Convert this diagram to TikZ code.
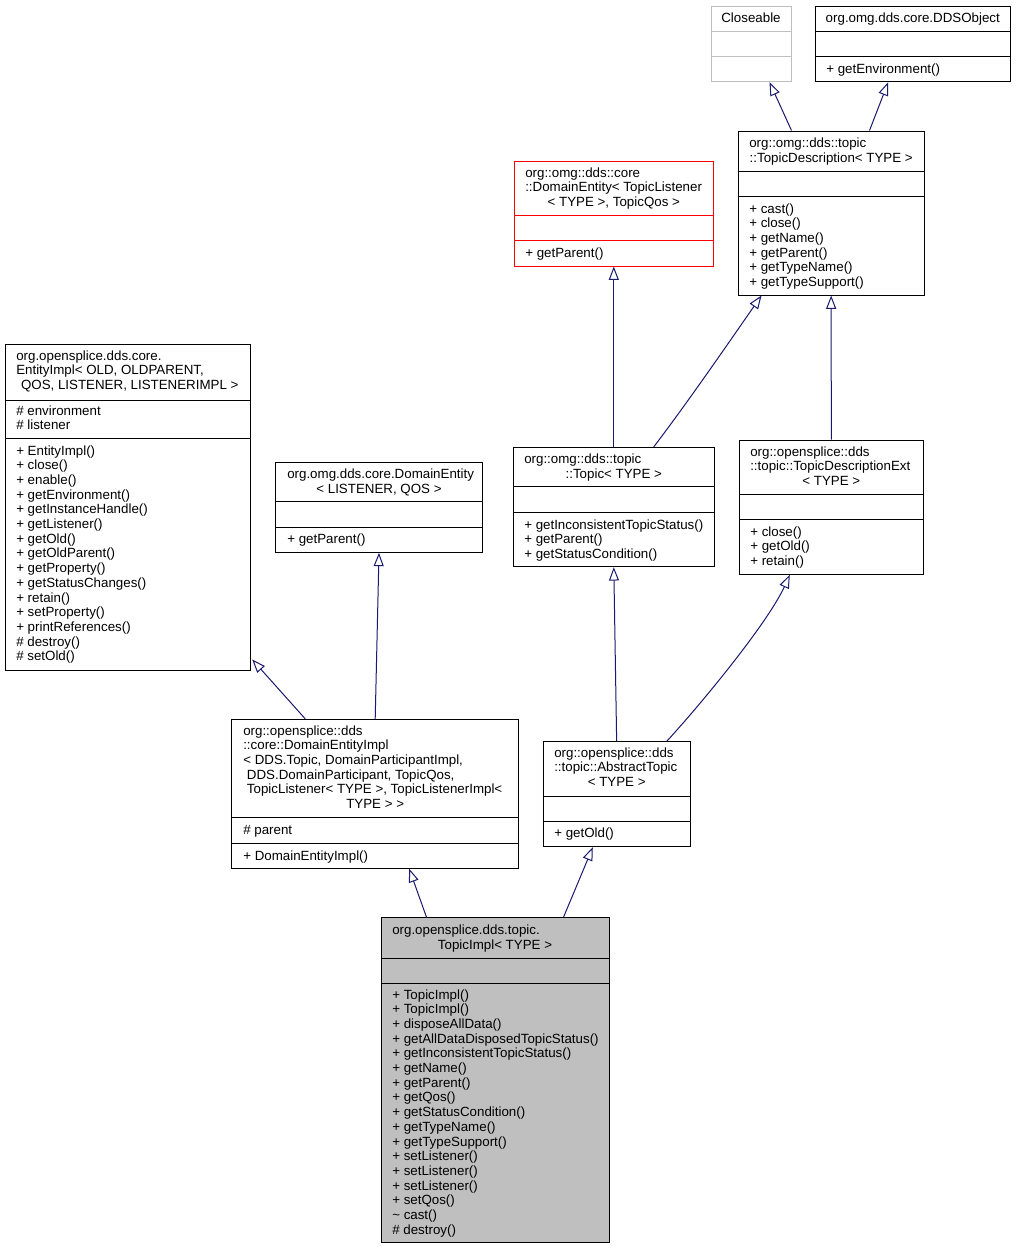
\documentclass[tikz,border=0pt]{standalone}
\usepackage{fontspec}
\setmainfont{Liberation Sans}
\usetikzlibrary{arrows.meta, fit, calc}

\definecolor{edgeblue}{HTML}{191970}
\definecolor{classgray}{HTML}{BFBFBF}

\begin{document}
\begin{tikzpicture}[
  font=\fontsize{10}{12}\selectfont,
  % One unit is one pixel of the original; rows grow downward:
  x=0.75pt,
  y=-0.75pt,
  classbox/.style={draw, line width=0.75pt, inner sep=0pt},
  divider/.style={line width=0.75pt},
  textl/.style={inner sep=0pt, anchor=base west},
  titlec/.style={inner sep=0pt, anchor=base},
  isa/.style={draw=edgeblue, line width=0.75pt,
    -{Triangle[open, length=10pt, width=7.5pt]}}
]

\fill[white] (0,0) rectangle (1015,1249);
\useasboundingbox (0,0) rectangle (1015,1249);

% 1) Top row: Closeable (external, gray) and DDSObject
\node[classbox, draw=classgray, fit={(711,6) (791,81.7)}] (closeable) {};
\draw[divider, classgray] (711,31.7) -- (791,31.7) (711,56.7) -- (791,56.7);
\node[titlec] at (751,22) {Closeable};

\node[classbox, fit={(815.7,6) (1010,81.7)}] (ddsobj) {};
\draw[divider] (815.7,31.7) -- (1010,31.7) (815.7,56.7) -- (1010,56.7);
\node[titlec] at (912.8,22) {org.omg.dds.core.DDSObject};
\node[textl] at (826,73) {+ getEnvironment()};

% 2) TopicDescription
\node[classbox, fit={(738,131) (924.3,295)}] (tdesc) {};
\draw[divider] (738,171.7) -- (924.3,171.7) (738,196.7) -- (924.3,196.7);
\node[textl] at (749,147) {org::omg::dds::topic};
\node[titlec] at (831.2,162) {::TopicDescription< TYPE >};
\foreach \m [count=\i from 0] in {+ cast(), + close(), + getName(),
    + getParent(), + getTypeName(), + getTypeSupport()}
  \node[textl] at (749,{213+14.7*\i}) {\m};

% 3) DomainEntity (incomplete, red)
\node[classbox, draw=red, fit={(514.3,161) (713.3,266)}] (dentity) {};
\draw[divider, red] (514.3,215.7) -- (713.3,215.7) (514.3,240.7) -- (713.3,240.7);
\node[textl] at (525,177) {org::omg::dds::core};
\node[textl] at (525,191.7) {::DomainEntity< TopicListener};
\node[titlec] at (613.8,206.4) {< TYPE >, TopicQos >};
\node[textl] at (525,257) {+ getParent()};

% 4) EntityImpl, the tall box on the left
\node[classbox, fit={(5,344.3) (250.7,670)}] (entity) {};
\draw[divider] (5,400) -- (250.7,400) (5,438.7) -- (250.7,438.7);
\node[textl] at (16,360) {org.opensplice.dds.core.};
\node[textl] at (16,374.7) {EntityImpl< OLD, OLDPARENT,};
\node[titlec] at (127.9,389.4) {\ QOS, LISTENER, LISTENERIMPL >};
\node[textl] at (16,415) {\# environment};
\node[textl] at (16,429.7) {\# listener};
\foreach \m [count=\i from 0] in {+ EntityImpl(), + close(), + enable(),
    + getEnvironment(), + getInstanceHandle(), + getListener(), + getOld(),
    + getOldParent(), + getProperty(), + getStatusChanges(), + retain(),
    + setProperty(), + printReferences(), \# destroy(), \# setOld()}
  \node[textl] at (16,{455+14.7*\i}) {\m};

% 5) DomainEntity< LISTENER, QOS >
\node[classbox, fit={(275.7,462.3) (482.3,552.3)}] (dentityl) {};
\draw[divider] (275.7,501.7) -- (482.3,501.7) (275.7,527.7) -- (482.3,527.7);
\node[textl] at (287,478) {org.omg.dds.core.DomainEntity};
\node[titlec] at (379,493) {< LISTENER, QOS >};
\node[textl] at (287,543) {+ getParent()};

% 6) Topic
\node[classbox, fit={(513.3,447.3) (714.3,566.7)}] (topic) {};
\draw[divider] (513.3,486.7) -- (714.3,486.7) (513.3,512) -- (714.3,512);
\node[textl] at (524,463) {org::omg::dds::topic};
\node[titlec] at (613.8,478) {::Topic< TYPE >};
\foreach \m [count=\i from 0] in {+ getInconsistentTopicStatus(),
    + getParent(), + getStatusCondition()}
  \node[textl] at (524,{529+14.7*\i}) {\m};

% 7) TopicDescriptionExt
\node[classbox, fit={(739.3,440) (923.3,574.3)}] (tdext) {};
\draw[divider] (739.3,494.3) -- (923.3,494.3) (739.3,519.3) -- (923.3,519.3);
\node[textl] at (750,456) {org::opensplice::dds};
\node[textl] at (750,470.7) {::topic::TopicDescriptionExt};
\node[titlec] at (831.3,485.4) {< TYPE >};
\foreach \m [count=\i from 0] in {+ close(), + getOld(), + retain()}
  \node[textl] at (750,{536+14.7*\i}) {\m};

% 8) DomainEntityImpl
\node[classbox, fit={(231.7,719.3) (518.7,868.3)}] (deimpl) {};
\draw[divider] (231.7,817.7) -- (518.7,817.7) (231.7,843.3) -- (518.7,843.3);
\foreach \t [count=\i from 0] in {org::opensplice::dds,
    ::core::DomainEntityImpl, {< DDS.Topic, DomainParticipantImpl,},
    {\ DDS.DomainParticipant, TopicQos,},
    {\ TopicListener< TYPE >, TopicListenerImpl<}}
  \node[textl] at (243,{735+14.7*\i}) {\t};
\node[titlec] at (375.2,808.5) {TYPE > >};
\node[textl] at (243,834) {\# parent};
\node[textl] at (243,860) {+ DomainEntityImpl()};

% 9) AbstractTopic
\node[classbox, fit={(543.3,741.7) (690,846.7)}] (abstopic) {};
\draw[divider] (543.3,796) -- (690,796) (543.3,821) -- (690,821);
\node[textl] at (554,757) {org::opensplice::dds};
\node[textl] at (554,771.7) {::topic::AbstractTopic};
\node[titlec] at (616.7,786.4) {< TYPE >};
\node[textl] at (554,837) {+ getOld()};

% 10) TopicImpl, the class itself (filled gray)
\node[classbox, fill=classgray, fit={(381,917.7) (609,1242.3)}] (topicimpl) {};
\draw[divider] (381,958.3) -- (609,958.3) (381,983.3) -- (609,983.3);
\node[textl] at (392,934) {org.opensplice.dds.topic.};
\node[titlec] at (495,949) {TopicImpl< TYPE >};
\foreach \m [count=\i from 0] in {+ TopicImpl(), + TopicImpl(),
    + disposeAllData(), + getAllDataDisposedTopicStatus(),
    + getInconsistentTopicStatus(), + getName(), + getParent(), + getQos(),
    + getStatusCondition(), + getTypeName(), + getTypeSupport(),
    + setListener(), + setListener(), + setListener(), + setQos(),
    \textasciitilde\ cast(), \# destroy()}
  \node[textl] at (392,{999+14.7*\i}) {\m};

% Inheritance arrows, child -> parent
\draw[isa] ($(tdesc.north west)+(54,0)$) -- ($(closeable.south west)+(59,0)$);
\draw[isa] ($(tdesc.north west)+(132,0)$) -- ($(ddsobj.south west)+(73,0)$);
\draw[isa] (topic.north) -- (dentity.south);
\draw[isa] ($(topic.north west)+(141,0)$)
  .. controls +(35,-46) and +(-32,46) .. ($(tdesc.south west)+(24,0)$);
\draw[isa] (tdext.north) -- (tdesc.south);
\draw[isa] ($(deimpl.north west)+(74,0)$) -- ($(entity.south east)+(1,-11)$);
\draw[isa] (deimpl.north) -- (dentityl.south);
\draw[isa] (abstopic.north) -- (topic.south);
\draw[isa] ($(abstopic.north west)+(124,0)$)
  .. controls +(35,-38) and +(-22,48) .. ($(tdext.south west)+(51,0)$);
\draw[isa] ($(topicimpl.north west)+(46,0)$) -- ($(deimpl.south west)+(178,0)$);
\draw[isa] ($(topicimpl.north west)+(183,0)$) -- ($(abstopic.south west)+(50,0)$);

\end{tikzpicture}
\end{document}
